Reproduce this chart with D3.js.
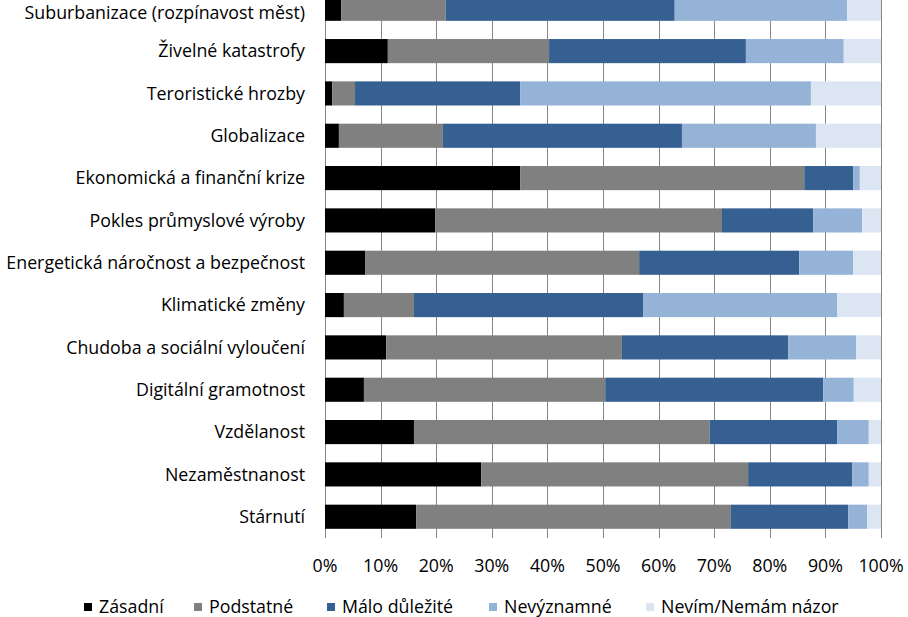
<!DOCTYPE html>
<html><head><meta charset="utf-8">
<script src="https://cdn.jsdelivr.net/npm/d3@7"></script>
<style>body{margin:0;background:#fff}svg{display:block}text{font-family:"Open Sans",Lato,sans-serif;fill:#000}</style>
</head><body>
<script>
const categories = ["Suburbanizace (rozpínavost měst)","Živelné katastrofy","Teroristické hrozby","Globalizace","Ekonomická a finanční krize","Pokles průmyslové výroby","Energetická náročnost a bezpečnost","Klimatické změny","Chudoba a sociální vyloučení","Digitální gramotnost","Vzdělanost","Nezaměstnanost","Stárnutí"];
const seriesNames = ["Zásadní","Podstatné","Málo důležité","Nevýznamné","Nevím/Nemám názor"];
const zasadni    = [2.9, 11.3, 1.3, 2.5, 35.1, 19.8, 7.2, 3.4, 11.0, 7.0, 16.0, 28.1, 16.4];
const podstatne  = [18.8, 29.0, 4.1, 18.7, 51.1, 51.6, 49.3, 12.6, 42.4, 43.4, 53.2, 48.0, 56.6];
const maloDulezite = [41.2, 35.4, 29.7, 43.0, 8.8, 16.4, 28.8, 41.2, 29.9, 39.2, 22.9, 18.7, 21.1];
const nevyznamne = [31.0, 17.6, 52.3, 24.1, 1.2, 8.8, 9.7, 34.9, 12.2, 5.5, 5.7, 3.0, 3.4];
const nevim      = [6.1, 6.7, 12.6, 11.7, 3.8, 3.4, 5.0, 7.9, 4.5, 4.9, 2.2, 2.2, 2.5];
const tickValues = [0,10,20,30,40,50,60,70,80,90,100];
const colors = ["#000000","#808080","#366092","#95B3D7","#DCE6F2"];

const W = 908, H = 617;
const svg = d3.select("body").append("svg").attr("width", W).attr("height", H);
const x = d3.scaleLinear().domain([0,100]).range([325, 881]);
const y = d3.scaleBand().domain(categories).range([-12.4, 537.9]).paddingInner(0.43).paddingOuter(0.215);

const rows = categories.map((c,i)=>({cat:c, "0":zasadni[i], "1":podstatne[i], "2":maloDulezite[i], "3":nevyznamne[i], "4":nevim[i]}));
const totals = rows.map(r=>[0,1,2,3,4].reduce((s,k)=>s+r[k],0));
rows.forEach((r,i)=>{for(let k=0;k<5;k++) r[k]=r[k]/totals[i]*100;});
const stack = d3.stack().keys(["0","1","2","3","4"])(rows);

// gridlines
svg.append("g").selectAll("line").data(tickValues).join("line")
  .attr("x1", d=>Math.round(x(d))+0.5).attr("x2", d=>Math.round(x(d))+0.5)
  .attr("y1", 0).attr("y2", 538).attr("stroke", "#868686").attr("stroke-width", 1);

svg.append("g").selectAll("g").data(stack).join("g")
  .attr("fill", (d,i)=>colors[i])
  .selectAll("rect").data(d=>d).join("rect")
  .attr("x", d=>x(d[0])).attr("width", d=>x(d[1])-x(d[0]))
  .attr("y", d=>y(d.data.cat)).attr("height", y.bandwidth());

const fs = "17.8px";
// y labels
svg.append("g").selectAll("text").data(categories).join("text")
  .attr("x", 305).attr("y", d=>Math.max(y(d)+y.bandwidth()/2, 12.6)).attr("dy","0.35em")
  .attr("text-anchor","end").style("font-size",fs).text(d=>d);

// x axis labels
svg.append("g").selectAll("text").data(tickValues).join("text")
  .attr("x", d=>x(d)).attr("y", 566).attr("dy","0.35em").attr("text-anchor","middle")
  .style("font-size",fs).text(d=>d+"%");

// legend
const legX = [84, 194, 327, 489, 646];
const leg = svg.append("g").selectAll("g").data(seriesNames).join("g")
  .attr("transform", (d,i)=>`translate(${legX[i]},607)`);
leg.append("rect").attr("x",0).attr("y",-4).attr("width",8).attr("height",8).attr("fill",(d,i)=>colors[i]);
leg.append("text").attr("x",15).attr("dy","0.35em").style("font-size",fs).text(d=>d);
</script>
</body></html>
